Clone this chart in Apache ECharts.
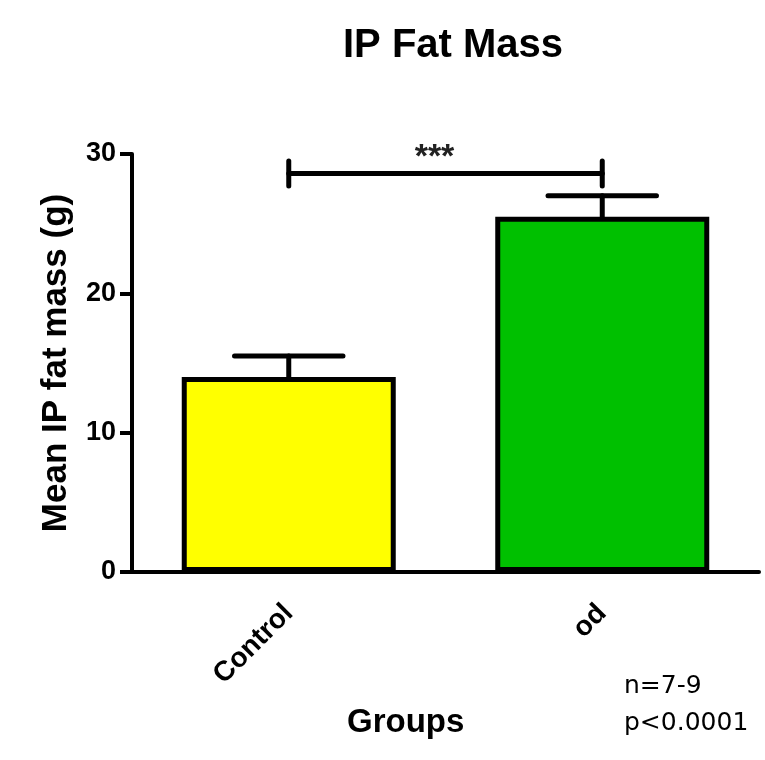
<!DOCTYPE html>
<html>
<head>
<meta charset="utf-8">
<script src="https://cdn.jsdelivr.net/npm/echarts@6/dist/echarts.min.js"></script>
<style>
  html, body { margin: 0; padding: 0; background: #fff; }
  #chart { width: 765px; height: 760px; }
</style>
</head>
<body>
<div id="chart"></div>
<script>
// Group means and standard errors of intraperitoneal fat mass (g)
const groups = ['Control', 'od'];
const meanMass = [14.0, 25.5];
const semMass = [1.5, 1.5];
const barColors = ['#FFFF00', '#00C000'];

// Y axis range and tick step
const yMin = 0;
const yMax = 30;
const yStep = 10;

// Significance bracket between the two groups
const sigPair = [0, 1];
const sigLevel = 28.6;
const sigLabel = '***';

// Footnote lines
const noteLines = ['n=7-9', 'p<0.0001'];

const boldFont = '"Liberation Sans", Arial, sans-serif';

const chart = echarts.init(document.getElementById('chart'), null, { renderer: 'canvas' });

const barData = meanMass.map((v, i) => ({
  value: v,
  itemStyle: { color: barColors[i] }
}));

const errData = meanMass.map((v, i) => [i, v, v + semMass[i]]);

chart.setOption({
  animation: false,
  backgroundColor: '#ffffff',
  title: [
    {
      text: 'IP Fat Mass',
      left: 338,
      top: 21,
      textStyle: { fontFamily: boldFont, fontWeight: 'bold', fontSize: 40, color: '#000' }
    },
    {
      text: 'Groups',
      left: 342,
      top: 701,
      textStyle: { fontFamily: boldFont, fontWeight: 'bold', fontSize: 33, color: '#000' }
    },
    {
      text: noteLines.join('\n'),
      left: 619,
      top: 663,
      textStyle: { fontFamily: '"DejaVu Sans", sans-serif', fontWeight: 'normal', fontSize: 25, lineHeight: 37, color: '#000' }
    }
  ],
  grid: { left: 132, right: 6, top: 154, bottom: 188, containLabel: false },
  xAxis: {
    type: 'category',
    data: groups,
    boundaryGap: true,
    axisLine: { lineStyle: { color: '#000', width: 4 } },
    axisTick: { alignWithLabel: true, length: 12, lineStyle: { color: '#000', width: 4 } },
    axisLabel: {
      interval: 0,
      rotate: 45,
      margin: 37,
      fontFamily: boldFont,
      fontWeight: 'bold',
      fontSize: 28,
      color: '#000'
    },
    splitLine: { show: false }
  },
  yAxis: {
    type: 'value',
    min: yMin,
    max: yMax,
    interval: yStep,
    name: 'Mean IP fat mass (g)',
    nameLocation: 'middle',
    nameGap: 58,
    nameTextStyle: { fontFamily: boldFont, fontWeight: 'bold', fontSize: 35, color: '#000' },
    axisLine: { show: true, lineStyle: { color: '#000', width: 4 } },
    axisTick: { show: true, length: 12, lineStyle: { color: '#000', width: 4 } },
    axisLabel: { margin: 16, fontFamily: boldFont, fontWeight: 'bold', fontSize: 27, color: '#000' },
    splitLine: { show: false }
  },
  series: [
    {
      type: 'bar',
      data: barData,
      barWidth: 214,
      itemStyle: { borderColor: '#000', borderWidth: 5 },
      z: 2
    },
    {
      // Upper error bars (mean to mean + SEM) with a horizontal cap
      type: 'custom',
      data: errData,
      z: 3,
      renderItem: function (params, api) {
        const idx = api.value(0);
        const base = api.coord([idx, api.value(1)]);
        const top = api.coord([idx, api.value(2)]);
        const capHalf = api.size([1, 0])[0] * 0.173;
        const style = { stroke: '#000', lineWidth: 5, lineCap: 'round' };
        return {
          type: 'group',
          children: [
            { type: 'line', shape: { x1: base[0], y1: base[1], x2: top[0], y2: top[1] }, style: style },
            { type: 'line', shape: { x1: top[0] - capHalf, y1: top[1], x2: top[0] + capHalf, y2: top[1] }, style: style }
          ]
        };
      }
    },
    {
      // Significance bracket with stars
      type: 'custom',
      data: [[sigPair[0], sigPair[1], sigLevel]],
      z: 3,
      renderItem: function (params, api) {
        const a = api.coord([api.value(0), api.value(2)]);
        const b = api.coord([api.value(1), api.value(2)]);
        const endHalf = api.size([0, 0.9])[1];
        const style = { stroke: '#000', lineWidth: 5, lineCap: 'round' };
        return {
          type: 'group',
          children: [
            { type: 'line', shape: { x1: a[0], y1: a[1], x2: b[0], y2: b[1] }, style: style },
            { type: 'line', shape: { x1: a[0], y1: a[1] - endHalf, x2: a[0], y2: a[1] + endHalf }, style: style },
            { type: 'line', shape: { x1: b[0], y1: b[1] - endHalf, x2: b[0], y2: b[1] + endHalf }, style: style },
            {
              type: 'text',
              x: (a[0] + b[0]) / 2 - 11,
              y: a[1] + 1,
              style: {
                text: sigLabel,
                fill: '#222',
                font: 'bold 34px ' + boldFont,
                textAlign: 'center',
                textVerticalAlign: 'bottom'
              }
            }
          ]
        };
      }
    }
  ]
});
</script>
</body>
</html>
